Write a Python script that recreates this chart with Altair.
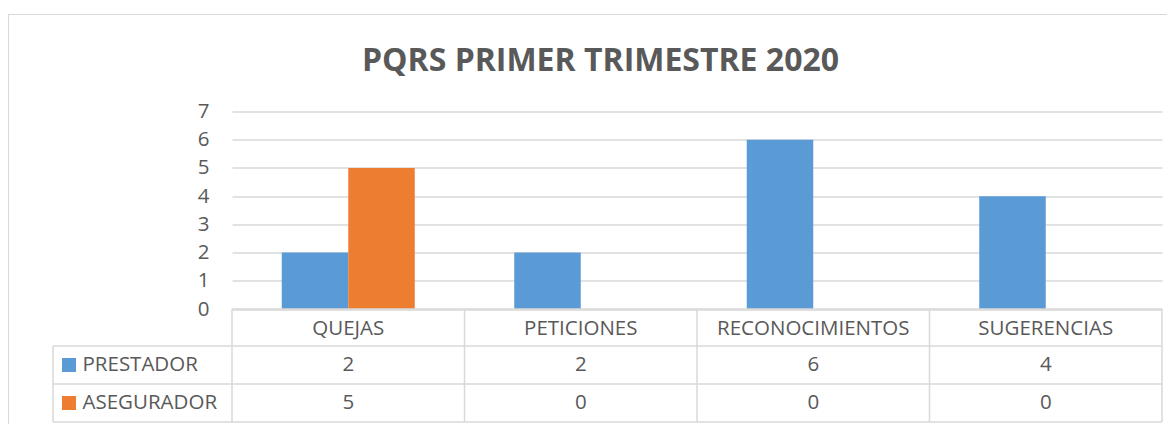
import altair as alt
import pandas as pd

categories = ["QUEJAS", "PETICIONES", "RECONOCIMIENTOS", "SUGERENCIAS"]
series = ["PRESTADOR", "ASEGURADOR"]
prestador = [2, 2, 6, 4]
asegurador = [5, 0, 0, 0]
colors = ["#5B9BD5", "#ED7D31"]
y_ticks = [0, 1, 2, 3, 4, 5, 6, 7]
title_text = "PQRS PRIMER TRIMESTRE 2020"

rows = []
for c, p, a in zip(categories, prestador, asegurador):
    rows.append({"cat": c, "series": series[0], "value": p})
    rows.append({"cat": c, "series": series[1], "value": a})
df = pd.DataFrame(rows)
cat_df = pd.DataFrame({"cat": categories})
ser_df = pd.DataFrame({"series": series})
title_df = pd.DataFrame({"t": [title_text]})
one = pd.DataFrame({"k": [0]})

FONT = "Open Sans"
TXT = "#595959"
GRID = "#d9d9d9"
FS = 20.5

W, H = 930, 197.5
PAD = {"left": 224, "top": 103.5, "right": 5, "bottom": 115}

xscale = alt.Scale(domain=categories, paddingInner=0, paddingOuter=0)
color_scale = alt.Scale(domain=series, range=colors)
row_scale = alt.Scale(type="point", domain=series, range=[253.5, 291.5], padding=0)

border = alt.Chart(one).mark_rect(fillOpacity=0, stroke=GRID, strokeWidth=1.2).encode(
    x=alt.value(-223.5), x2=alt.value(1100), y=alt.value(-97), y2=alt.value(400)
)

title = alt.Chart(title_df).mark_text(font=FONT, fontSize=32, fontWeight="bold", color=TXT,
                                      baseline="alphabetic", align="center").encode(
    x=alt.value(368.5), y=alt.value(-40.8), text="t:N"
)

bars = alt.Chart(df).mark_bar().encode(
    x=alt.X("cat:N", scale=xscale, sort=categories, axis=None),
    xOffset=alt.XOffset("series:N", sort=series,
                        scale=alt.Scale(domain=series, paddingInner=0, paddingOuter=0.748)),
    y=alt.Y("value:Q", scale=alt.Scale(domain=[0, 7], nice=False),
            axis=alt.Axis(values=y_ticks, title=None, domain=False, ticks=False,
                          labelPadding=23, labelFont=FONT, labelFontSize=FS,
                          labelColor=TXT, gridColor=GRID, gridWidth=1.5)),
    color=alt.Color("series:N", scale=color_scale, legend=None),
)

vlines = alt.Chart(cat_df).mark_rule(color=GRID, strokeWidth=1.5).encode(
    x=alt.X("cat:N", scale=xscale, sort=categories, bandPosition=0, axis=None),
    y=alt.value(197.5), y2=alt.value(310.5),
)
vright = alt.Chart(one).mark_rule(color=GRID, strokeWidth=1.5).encode(
    x=alt.value(930), y=alt.value(197.5), y2=alt.value(310.5)
)
vleft = alt.Chart(one).mark_rule(color=GRID, strokeWidth=1.5).encode(
    x=alt.value(-179), y=alt.value(234.5), y2=alt.value(310.5)
)
h0 = alt.Chart(one).mark_rule(color=GRID, strokeWidth=1.5).encode(
    x=alt.value(0), x2=alt.value(930), y=alt.value(197.5)
)
h1 = alt.Chart(one).mark_rule(color=GRID, strokeWidth=1.5).encode(
    x=alt.value(-179), x2=alt.value(930), y=alt.value(234.5)
)
h2 = alt.Chart(one).mark_rule(color=GRID, strokeWidth=1.5).encode(
    x=alt.value(-179), x2=alt.value(930), y=alt.value(272.5)
)
h3 = alt.Chart(one).mark_rule(color=GRID, strokeWidth=1.5).encode(
    x=alt.value(-179), x2=alt.value(930), y=alt.value(310.5)
)

header = alt.Chart(cat_df).mark_text(font=FONT, fontSize=FS, color=TXT, baseline="middle").encode(
    x=alt.X("cat:N", scale=xscale, sort=categories, axis=None),
    y=alt.value(217),
    text="cat:N",
)

values = alt.Chart(df).mark_text(font=FONT, fontSize=FS, color=TXT, baseline="middle").encode(
    x=alt.X("cat:N", scale=xscale, sort=categories, axis=None),
    y=alt.Y("series:N", scale=row_scale, axis=None),
    text="value:Q",
)

leg_text = alt.Chart(ser_df).mark_text(font=FONT, fontSize=FS, color=TXT, baseline="middle",
                                        align="left").encode(
    x=alt.value(-149.5),
    y=alt.Y("series:N", scale=row_scale, axis=None),
    text="series:N",
)
leg_sw = alt.Chart(ser_df).mark_square(size=196, opacity=1).encode(
    x=alt.value(-163),
    y=alt.Y("series:N", scale=row_scale, axis=None),
    color=alt.Color("series:N", scale=color_scale, legend=None),
)

chart = alt.layer(
    border, title, bars, vlines, vright, vleft, h0, h1, h2, h3, header, values, leg_text, leg_sw
).resolve_scale(y="independent").properties(
    width=W, height=H, padding=PAD,
    autosize=alt.AutoSizeParams(type="none"),
    background="white",
).configure_view(stroke="transparent")

chart.save("out.html", embed_options={"renderer": "svg", "actions": False})
